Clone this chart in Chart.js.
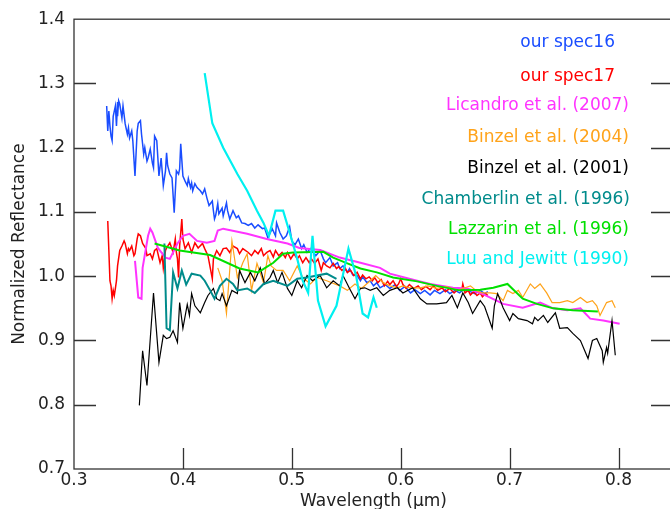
<!DOCTYPE html>
<html>
<head>
<meta charset="utf-8">
<title>Normalized reflectance spectra</title>
<script src="https://cdn.jsdelivr.net/npm/chart.js@4.4.1/dist/chart.umd.min.js"></script>
<style>
  html, body { margin: 0; padding: 0; background: #fff; overflow: hidden; }
  #wrap { width: 680px; height: 509px; }
</style>
</head>
<body>
<div id="wrap"><canvas id="spectra" width="680" height="509"></canvas></div>
<script>
// axis ticks
const xTicks = [0.3, 0.4, 0.5, 0.6, 0.7, 0.8];
const yTicks = [0.7, 0.8, 0.9, 1.0, 1.1, 1.2, 1.3, 1.4];

// [wavelength (um), normalized reflectance]
const spec16 = [
  [0.330,1.265],[0.331,1.226],[0.332,1.257],[0.333,1.234],[0.334,1.218],[0.335,1.211],[0.336,1.249],
  [0.338,1.265],[0.339,1.234],[0.340,1.271],[0.340,1.249],[0.341,1.273],[0.342,1.268],[0.344,1.246],
  [0.345,1.265],[0.347,1.237],[0.349,1.221],[0.350,1.231],[0.351,1.215],[0.353,1.226],[0.354,1.211],
  [0.356,1.156],[0.358,1.226],[0.359,1.238],[0.361,1.242],[0.362,1.221],[0.363,1.206],[0.364,1.190],
  [0.365,1.200],[0.367,1.179],[0.368,1.184],[0.370,1.198],[0.372,1.176],[0.373,1.169],[0.374,1.218],
  [0.376,1.211],[0.377,1.184],[0.378,1.156],[0.380,1.184],[0.382,1.141],[0.384,1.164],[0.385,1.192],
  [0.386,1.172],[0.388,1.159],[0.390,1.153],[0.392,1.099],[0.394,1.164],[0.396,1.159],[0.397,1.167],
  [0.398,1.206],[0.400,1.156],[0.402,1.148],[0.404,1.141],[0.405,1.152],[0.407,1.138],[0.408,1.145],
  [0.409,1.133],[0.411,1.144],[0.413,1.138],[0.416,1.133],[0.418,1.128],[0.420,1.136],[0.422,1.122],
  [0.424,1.110],[0.427,1.117],[0.428,1.102],[0.429,1.089],[0.430,1.094],[0.432,1.113],[0.433,1.097],
  [0.436,1.106],[0.437,1.094],[0.440,1.114],[0.441,1.102],[0.443,1.089],[0.446,1.102],[0.449,1.091],
  [0.451,1.094],[0.454,1.083],[0.457,1.082],[0.460,1.079],[0.463,1.082],[0.466,1.075],[0.469,1.080],
  [0.473,1.074],[0.475,1.075],[0.478,1.060],[0.482,1.074],[0.485,1.063],[0.486,1.083],[0.489,1.068],
  [0.492,1.058],[0.495,1.063],[0.498,1.077],[0.500,1.055],[0.503,1.049],[0.506,1.058],[0.509,1.043],
  [0.511,1.049],[0.514,1.037],[0.517,1.043],[0.520,1.037],[0.522,1.032],[0.526,1.040],[0.529,1.027],
  [0.531,1.021],[0.535,1.029],[0.538,1.016],[0.542,1.021],[0.544,1.012],[0.547,1.016],[0.551,1.006],
  [0.553,1.012],[0.556,1.002],[0.560,1.001],[0.563,0.993],[0.565,0.999],[0.569,0.990],[0.572,0.993],
  [0.575,0.985],[0.578,0.990],[0.581,0.982],[0.586,0.987],[0.590,0.981],[0.595,0.987],[0.599,0.978],
  [0.604,0.984],[0.609,0.974],[0.613,0.979],[0.618,0.973],[0.622,0.978],[0.627,0.971],[0.631,0.978],
  [0.636,0.973],[0.641,0.979],[0.645,0.973],[0.650,0.978],[0.654,0.974],[0.659,0.981],[0.664,0.976],
  [0.668,0.973],[0.673,0.978],[0.677,0.973],[0.680,0.976]
];

const spec17 = [
  [0.331,1.086],[0.332,1.040],[0.333,0.993],[0.334,0.985],[0.335,0.965],[0.336,0.978],[0.337,0.970],
  [0.338,0.981],[0.339,0.993],[0.340,1.016],[0.342,1.040],[0.344,1.047],[0.346,1.055],[0.347,1.051],
  [0.349,1.035],[0.350,1.043],[0.351,1.040],[0.353,1.047],[0.355,1.032],[0.356,1.035],[0.358,1.058],
  [0.359,1.066],[0.361,1.063],[0.363,1.051],[0.366,1.043],[0.367,1.032],[0.370,1.035],[0.372,1.027],
  [0.374,1.040],[0.376,1.043],[0.379,1.021],[0.381,1.032],[0.382,1.013],[0.384,1.040],[0.385,1.044],
  [0.388,1.052],[0.391,1.037],[0.393,1.058],[0.394,1.037],[0.395,1.027],[0.396,0.998],[0.397,1.047],
  [0.399,1.089],[0.400,1.058],[0.402,1.043],[0.405,1.052],[0.408,1.037],[0.411,1.052],[0.414,1.044],
  [0.418,1.051],[0.420,1.043],[0.423,1.032],[0.427,0.996],[0.428,1.027],[0.431,1.040],[0.434,1.032],
  [0.437,1.043],[0.440,1.044],[0.443,1.037],[0.446,1.047],[0.450,1.043],[0.452,1.035],[0.455,1.043],
  [0.460,1.037],[0.463,1.032],[0.466,1.040],[0.469,1.035],[0.472,1.043],[0.474,1.032],[0.477,1.037],
  [0.480,1.040],[0.483,1.030],[0.485,1.040],[0.488,1.032],[0.491,1.037],[0.494,1.029],[0.496,1.037],
  [0.499,1.027],[0.502,1.035],[0.505,1.027],[0.507,1.032],[0.510,1.021],[0.513,1.029],[0.516,1.021],
  [0.518,1.027],[0.521,1.020],[0.524,1.027],[0.527,1.009],[0.529,1.021],[0.532,1.016],[0.535,1.013],
  [0.538,1.020],[0.541,1.012],[0.543,1.015],[0.546,1.009],[0.549,1.013],[0.551,1.006],[0.554,1.009],
  [0.557,1.001],[0.560,1.006],[0.563,0.996],[0.565,1.002],[0.568,0.996],[0.571,0.999],[0.574,0.993],
  [0.576,0.998],[0.579,0.990],[0.582,0.995],[0.585,0.985],[0.588,0.992],[0.590,0.987],[0.593,0.993],
  [0.596,0.984],[0.598,0.988],[0.600,0.996],[0.602,0.987],[0.605,0.981],[0.608,0.987],[0.612,0.981],
  [0.616,0.985],[0.619,0.979],[0.623,0.984],[0.627,0.979],[0.630,0.985],[0.634,0.978],[0.638,0.982],
  [0.641,0.976],[0.645,0.981],[0.649,0.974],[0.652,0.979],[0.656,0.978],[0.657,0.988],[0.659,0.974],
  [0.662,0.978],[0.664,0.971],[0.667,0.976],[0.670,0.970],[0.673,0.974],[0.675,0.968],[0.678,0.973],
  [0.680,0.970]
];

const licandro2007 = [
  [0.356,1.024],[0.359,0.967],[0.362,0.965],[0.363,1.013],[0.368,1.063],[0.370,1.074],[0.372,1.068],
  [0.377,1.044],[0.384,1.029],[0.388,1.027],[0.395,1.051],[0.400,1.063],[0.406,1.066],[0.413,1.055],
  [0.422,1.052],[0.429,1.055],[0.432,1.071],[0.437,1.074],[0.459,1.066],[0.477,1.058],[0.496,1.051],
  [0.507,1.044],[0.526,1.041],[0.544,1.029],[0.563,1.021],[0.581,1.013],[0.590,1.004],[0.615,0.993],
  [0.627,0.988],[0.648,0.982],[0.661,0.981],[0.673,0.974],[0.688,0.962],[0.694,0.957],[0.712,0.951],
  [0.728,0.959],[0.740,0.950],[0.753,0.947],[0.765,0.950],[0.774,0.934],[0.786,0.931],[0.801,0.926]
];

const binzel2004 = [
  [0.432,1.013],[0.436,0.993],[0.440,0.942],[0.445,1.055],[0.448,1.021],[0.450,0.998],[0.455,1.021],
  [0.459,1.035],[0.463,0.978],[0.468,1.020],[0.474,0.990],[0.478,1.032],[0.481,1.016],[0.486,1.009],
  [0.492,1.009],[0.498,0.993],[0.505,1.016],[0.510,0.998],[0.517,0.988],[0.523,0.998],[0.532,0.993],
  [0.544,0.985],[0.551,0.978],[0.558,0.988],[0.564,0.981],[0.572,0.993],[0.577,1.001],[0.584,0.990],
  [0.590,0.985],[0.597,0.982],[0.602,0.985],[0.608,0.982],[0.618,0.982],[0.625,0.985],[0.633,0.981],
  [0.642,0.984],[0.652,0.978],[0.659,0.982],[0.664,0.985],[0.669,0.978],[0.675,0.974],[0.682,0.974],
  [0.688,0.973],[0.694,0.962],[0.698,0.978],[0.703,0.973],[0.708,0.978],[0.712,0.967],[0.719,0.988],
  [0.723,0.981],[0.728,0.988],[0.734,0.974],[0.739,0.959],[0.746,0.959],[0.753,0.962],[0.758,0.959],
  [0.765,0.967],[0.771,0.959],[0.776,0.962],[0.780,0.954],[0.783,0.939],[0.789,0.959],[0.794,0.962],
  [0.797,0.951]
];

const binzel2001 = [
  [0.360,0.799],[0.363,0.884],[0.367,0.830],[0.373,0.974],[0.378,0.866],[0.382,0.908],[0.385,0.903],
  [0.388,0.905],[0.391,0.915],[0.395,0.897],[0.397,0.959],[0.400,0.919],[0.404,0.956],[0.406,0.939],
  [0.408,0.973],[0.411,0.954],[0.416,0.943],[0.420,0.959],[0.423,0.970],[0.428,0.981],[0.431,0.965],
  [0.434,0.962],[0.436,0.973],[0.440,0.954],[0.445,0.978],[0.450,0.973],[0.452,1.009],[0.457,0.990],
  [0.462,1.006],[0.466,0.993],[0.471,1.013],[0.475,0.988],[0.480,0.998],[0.483,1.009],[0.487,0.990],
  [0.491,1.006],[0.496,0.981],[0.500,0.970],[0.505,0.993],[0.509,0.982],[0.514,1.001],[0.519,0.993],
  [0.526,1.001],[0.532,0.982],[0.538,0.993],[0.544,0.985],[0.547,1.001],[0.553,0.981],[0.558,0.965],
  [0.563,0.981],[0.567,0.982],[0.572,0.978],[0.578,0.982],[0.584,0.970],[0.590,0.978],[0.597,0.982],
  [0.602,0.974],[0.611,0.982],[0.618,0.965],[0.624,0.957],[0.633,0.957],[0.642,0.959],[0.647,0.970],
  [0.652,0.951],[0.657,0.974],[0.662,0.959],[0.666,0.942],[0.673,0.962],[0.677,0.953],[0.684,0.919],
  [0.686,0.954],[0.689,0.973],[0.694,0.951],[0.700,0.931],[0.703,0.942],[0.708,0.934],[0.716,0.931],
  [0.721,0.926],[0.723,0.936],[0.726,0.931],[0.731,0.939],[0.735,0.928],[0.742,0.943],[0.746,0.919],
  [0.753,0.920],[0.758,0.911],[0.765,0.900],[0.772,0.872],[0.776,0.900],[0.780,0.903],[0.785,0.884],
  [0.786,0.866],[0.789,0.889],[0.790,0.880],[0.794,0.931],[0.797,0.877]
];

const chamberlin1996 = [
  [0.383,1.051],[0.385,0.919],[0.388,0.916],[0.391,1.006],[0.395,0.981],[0.399,1.009],[0.403,0.987],
  [0.408,1.004],[0.416,1.001],[0.420,0.993],[0.425,0.978],[0.429,0.965],[0.434,0.985],[0.440,0.996],
  [0.446,0.988],[0.450,0.978],[0.459,0.981],[0.466,0.974],[0.474,0.988],[0.483,0.993],[0.496,0.985],
  [0.505,0.996],[0.514,0.998],[0.523,1.001],[0.532,1.004],[0.541,0.996]
];

const lazzarin1996 = [
  [0.374,1.051],[0.397,1.040],[0.425,1.033],[0.452,1.012],[0.469,1.006],[0.483,1.021],[0.492,1.035],
  [0.501,1.037],[0.529,1.038],[0.538,1.029],[0.551,1.020],[0.563,1.012],[0.578,1.006],[0.593,0.998],
  [0.615,0.992],[0.633,0.985],[0.654,0.978],[0.673,0.979],[0.685,0.982],[0.698,0.988],[0.712,0.965],
  [0.725,0.957],[0.740,0.950],[0.758,0.947],[0.781,0.945]
];

const luuJewitt1990 = [
  [0.420,1.316],[0.427,1.238],[0.437,1.200],[0.450,1.159],[0.459,1.133],[0.468,1.102],[0.474,1.083],
  [0.479,1.063],[0.485,1.102],[0.492,1.102],[0.498,1.068],[0.505,1.027],[0.510,0.993],[0.515,0.974],
  [0.519,1.063],[0.524,0.962],[0.531,0.922],[0.541,0.954],[0.552,1.043],[0.559,1.001],[0.565,0.942],
  [0.570,0.936],[0.575,0.967],[0.578,0.951]
];

const seriesData = [spec16, spec17, licandro2007, binzel2004, binzel2001, chamberlin1996, lazzarin1996, luuJewitt1990];
const seriesNames = ['our spec16', 'our spec17', 'Licandro et al. (2007)', 'Binzel et al. (2004)',
  'Binzel et al. (2001)', 'Chamberlin et al. (1996)', 'Lazzarin et al. (1996)', 'Luu and Jewitt (1990)'];
const seriesColors = ['#1a4dff', '#ff0000', '#ff33ff', '#ffa31a', '#000000', '#008b8b', '#00e000', '#00f0f0'];
const seriesWidths = [1.5, 1.5, 2, 1.2, 1.2, 2, 2, 2.2];

// legend text placement (right edge x, middle y)
const legendPos = [[615, 43], [615, 77], [629, 106], [629, 138], [629, 169], [630, 200], [629, 230], [629, 260]];

const FONT = 'DejaVu Sans';
const INK = '#222';

// frame with inward ticks on all four sides
const frame = {
  id: 'frame',
  afterDraw(chart) {
    const { ctx, chartArea: a, scales: { x, y } } = chart;
    ctx.save();
    ctx.strokeStyle = '#333';
    ctx.lineWidth = 1.3;
    ctx.strokeRect(a.left, a.top, a.right - a.left, a.bottom - a.top);
    ctx.beginPath();
    yTicks.slice(1, -1).forEach(v => {
      const py = Math.round(y.getPixelForValue(v)) + 0.5;
      ctx.moveTo(a.left, py); ctx.lineTo(a.left + 22, py);
      ctx.moveTo(a.right, py); ctx.lineTo(a.right - 22, py);
    });
    xTicks.slice(1).forEach(v => {
      const px = Math.round(x.getPixelForValue(v)) + 0.5;
      ctx.moveTo(px, a.bottom); ctx.lineTo(px, a.bottom - 21);
    });
    ctx.stroke();
    ctx.restore();
  }
};

// coloured names only, no swatches
const nameLegend = {
  id: 'nameLegend',
  afterDraw(chart) {
    const { ctx } = chart;
    ctx.save();
    ctx.font = `17px "${FONT}"`;
    ctx.textAlign = 'right';
    ctx.textBaseline = 'middle';
    seriesNames.forEach((name, i) => {
      ctx.fillStyle = seriesColors[i];
      ctx.fillText(name, legendPos[i][0], legendPos[i][1]);
    });
    ctx.restore();
  }
};

const tickFont = { family: FONT, size: 17 };

new Chart(document.getElementById('spectra'), {
  type: 'line',
  data: {
    datasets: seriesData.map((pts, i) => ({
      label: seriesNames[i],
      data: pts.map(([x, y]) => ({ x, y })),
      borderColor: seriesColors[i],
      borderWidth: seriesWidths[i],
      pointRadius: 0,
      fill: false,
      tension: 0,
      order: seriesData.length - i
    }))
  },
  options: {
    responsive: false,
    animation: false,
    layout: { padding: { top: 18, right: 7, left: 0, bottom: 0 } },
    plugins: { legend: { display: false }, tooltip: { enabled: false } },
    scales: {
      x: {
        type: 'linear',
        min: 0.3,
        max: 0.85,
        afterBuildTicks: s => { s.ticks = xTicks.map(v => ({ value: v })); },
        afterFit: s => { s.height = 40; },
        grid: { display: false, drawTicks: false },
        border: { display: false },
        ticks: { font: tickFont, color: INK, padding: 1, maxRotation: 0, autoSkip: false,
                 callback: v => v.toFixed(1) },
        title: { display: true, text: 'Wavelength (\u03bcm)', color: INK,
                 font: { family: FONT, size: 17, lineHeight: 1 }, padding: { top: 0, bottom: -1.5 } }
      },
      y: {
        min: 0.7,
        max: 1.4,
        afterBuildTicks: s => { s.ticks = yTicks.map(v => ({ value: v })); },
        afterFit: s => { s.width = 74; },
        grid: { display: false, drawTicks: false },
        border: { display: false },
        ticks: { font: tickFont, color: INK, padding: 9, autoSkip: false,
                 callback: v => v.toFixed(1) },
        title: { display: true, text: 'Normalized Reflectance', color: INK,
                 font: { family: FONT, size: 17, lineHeight: 1 }, padding: { top: 11.5, bottom: 0 } }
      }
    }
  },
  plugins: [frame, nameLegend]
});
</script>
</body>
</html>
